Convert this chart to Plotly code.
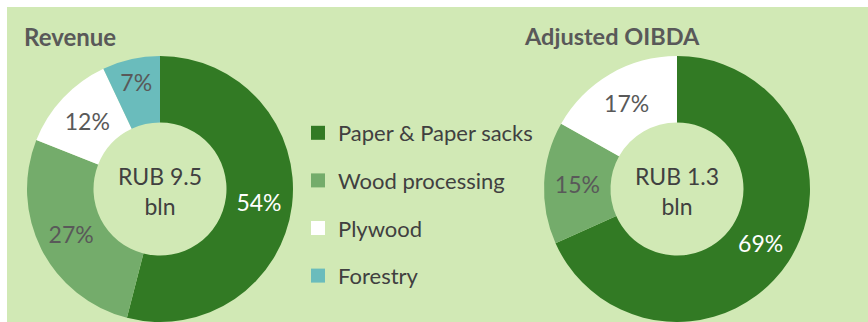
import plotly.graph_objects as go

W, H = 868, 322

categories = ["Paper & Paper sacks", "Wood processing", "Plywood", "Forestry"]
colors = ["#327a24", "#74ac6b", "#ffffff", "#6abcbc"]

revenue_values = [54, 27, 12, 7]
oibda_labels = ["Paper & Paper sacks", "Wood processing", "Plywood"]
oibda_values = [69, 15, 17]

revenue_title = "Revenue"
oibda_title = "Adjusted OIBDA"
revenue_center = "RUB 9.5<br>bln"
oibda_center = "RUB 1.3<br>bln"

BG = "#d1e9b5"
DARK = "#404040"
GREY = "#595959"
FONT = "Lato, 'Noto Sans', sans-serif"


def px_x(p):
    return p / W


def px_y(p):
    return 1 - p / H


def domain(cx, cy, r):
    return dict(x=[px_x(cx - r), px_x(cx + r)], y=[max(0, px_y(cy + r)), px_y(cy - r)])


fig = go.Figure()

color_map = dict(zip(categories, colors))

fig.add_trace(go.Pie(
    labels=categories, values=revenue_values, hole=0.5, sort=False,
    direction="clockwise", rotation=0,
    marker=dict(colors=colors, line=dict(width=0)),
    texttemplate="%{value}%", textposition="inside",
    insidetextorientation="horizontal",
    textfont=dict(family=FONT, size=23, color=["white", GREY, GREY, GREY]),
    domain=domain(160, 189, 133), showlegend=False, hoverinfo="label+percent",
))

fig.add_trace(go.Pie(
    labels=oibda_labels, values=oibda_values, hole=0.5, sort=False,
    direction="clockwise", rotation=0,
    marker=dict(colors=[color_map[c] for c in oibda_labels], line=dict(width=0)),
    texttemplate="%{value}%", textposition="inside",
    insidetextorientation="horizontal",
    textfont=dict(family=FONT, size=23, color=["white", GREY, GREY]),
    domain=domain(677, 189, 133), showlegend=False, hoverinfo="label+percent",
))

for cat, col in zip(categories, colors):
    fig.add_trace(go.Scatter(
        x=[None], y=[None], mode="markers", name=cat, legendgroup=cat,
        marker=dict(symbol="square", size=14, color=col, line=dict(width=0)),
        showlegend=True, hoverinfo="skip",
    ))

fig.update_layout(
    width=W, height=H,
    margin=dict(l=0, r=0, t=0, b=0),
    paper_bgcolor="white", plot_bgcolor="rgba(0,0,0,0)",
    xaxis=dict(visible=False, range=[0, 1]),
    yaxis=dict(visible=False, range=[0, 1]),
    font=dict(family=FONT, color=DARK),
    legend=dict(
        x=px_x(298), y=px_y(112), xanchor="left", yanchor="top",
        bgcolor="rgba(0,0,0,0)", font=dict(family=FONT, size=22, color=DARK),
        tracegroupgap=16, itemclick=False,
    ),
    shapes=[dict(type="rect", xref="paper", yref="paper",
                 x0=px_x(7), x1=1, y0=0, y1=px_y(7),
                 fillcolor=BG, line=dict(width=0), layer="below")],
    annotations=[
        dict(text="<b>%s</b>" % revenue_title, x=px_x(22), y=px_y(36), xref="paper", yref="paper",
             xanchor="left", yanchor="middle", showarrow=False,
             font=dict(family=FONT, size=24, color=GREY)),
        dict(text="<b>%s</b>" % oibda_title, x=px_x(522), y=px_y(36), xref="paper", yref="paper",
             xanchor="left", yanchor="middle", showarrow=False,
             font=dict(family=FONT, size=23.5, color=GREY)),
        dict(text=revenue_center, x=px_x(160), y=px_y(191), xref="paper", yref="paper",
             xanchor="center", yanchor="middle", showarrow=False,
             font=dict(family=FONT, size=23, color=DARK)),
        dict(text=oibda_center, x=px_x(677), y=px_y(191), xref="paper", yref="paper",
             xanchor="center", yanchor="middle", showarrow=False,
             font=dict(family=FONT, size=23, color=DARK)),
    ],
)

fig.write_html("out.html")
